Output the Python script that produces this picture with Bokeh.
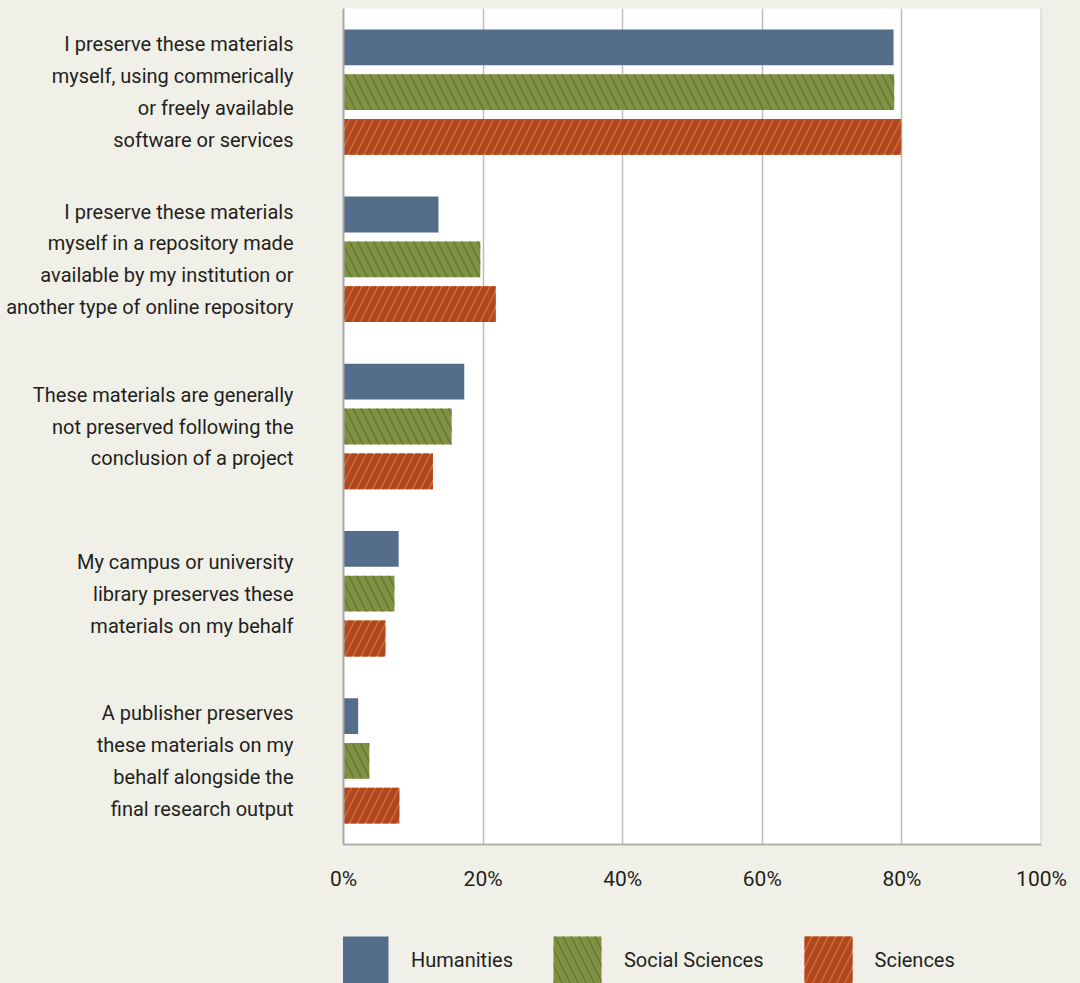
from bokeh.plotting import figure
from bokeh.layouts import column
from bokeh.models import ColumnDataSource, FactorRange, FixedTicker, PrintfTickFormatter, Span, Legend, LegendItem
from bokeh.transform import dodge
from bokeh.embed import file_html
from bokeh.resources import INLINE

categories = [
    "I preserve these materials\nmyself, using commerically\nor freely available\nsoftware or services",
    "I preserve these materials\nmyself in a repository made\navailable by my institution or\nanother type of online repository",
    "These materials are generally\nnot preserved following the\nconclusion of a project",
    "My campus or university\nlibrary preserves these\nmaterials on my behalf",
    "A publisher preserves\nthese materials on my\nbehalf alongside the\nfinal research output",
]
humanities = [78.8, 13.6, 17.3, 7.9, 2.1]
social_sciences = [78.9, 19.6, 15.5, 7.3, 3.7]
sciences = [79.9, 21.8, 12.8, 6.0, 8.0]
series_names = ["Humanities", "Social Sciences", "Sciences"]
x_ticks = [0, 20, 40, 60, 80, 100]

FONT = "Roboto"
BG = "#f0efe8"
TXT = "#231f20"

styles = [
    dict(fill_color="#536d8a", line_color=None),
    dict(fill_color="#809141", line_color=None, hatch_pattern="\\", hatch_color="#62753a",
         hatch_alpha=0.9, hatch_scale=16, hatch_weight=1.5),
    dict(fill_color="#d66328", line_color=None, hatch_pattern="/", hatch_color="#ad4822",
         hatch_alpha=1.0, hatch_scale=16, hatch_weight=5.5),
]

source = ColumnDataSource(dict(cat=categories, hum=humanities, soc=social_sciences, sci=sciences))

p = figure(
    width=1080, height=893,
    y_range=FactorRange(factors=categories[::-1], range_padding=0),
    x_range=(0, 100),
    output_backend="svg", toolbar_location=None,
    background_fill_color="white", border_fill_color=BG,
    min_border_left=343, min_border_right=39, min_border_top=8, min_border_bottom=43,
)
p.outline_line_color = None

bh = 0.214
off = 0.268
p.hbar(y=dodge("cat", off, range=p.y_range), right="hum", left=0, height=bh, source=source, **styles[0])
p.hbar(y=dodge("cat", 0, range=p.y_range), right="soc", left=0, height=bh, source=source, **styles[1])
p.hbar(y=dodge("cat", -off, range=p.y_range), right="sci", left=0, height=bh, source=source, **styles[2])

p.xaxis.ticker = FixedTicker(ticks=x_ticks)
p.xaxis.formatter = PrintfTickFormatter(format="%d%%")
p.xaxis.major_tick_line_color = None
p.xaxis.minor_tick_line_color = None
p.xaxis.axis_line_color = "#b0b0b0"
p.xaxis.axis_line_width = 2
p.xaxis.major_label_text_font = FONT
p.xaxis.major_label_text_font_size = "21px"
p.xaxis.major_label_text_color = TXT
p.xaxis.major_label_standoff = 16

p.yaxis.major_tick_line_color = None
p.yaxis.minor_tick_line_color = None
p.yaxis.axis_line_color = "#a8a8a8"
p.yaxis.axis_line_width = 2
p.yaxis.major_label_text_font = FONT
p.yaxis.major_label_text_font_size = "20px"
p.yaxis.major_label_text_color = TXT
p.yaxis.major_label_text_line_height = 1.327
p.yaxis.major_label_standoff = 44

p.ygrid.grid_line_color = None
p.xgrid.grid_line_color = "#bdbdbd"
p.xgrid.grid_line_width = 1.5

p.add_layout(Span(location=100, dimension="height", line_color="#c8c8c8", line_width=2))

# legend strip below the chart (same series styles, shown only as legend swatches)
lg = figure(
    width=1080, height=90, x_range=(0, 1), y_range=(0, 1),
    output_backend="svg", toolbar_location=None,
    background_fill_alpha=0, border_fill_alpha=0,
    min_border_left=0, min_border_right=0, min_border_top=0, min_border_bottom=0,
)
lg.outline_line_color = None
lg.axis.visible = False
lg.grid.visible = False
swatch = ColumnDataSource(dict(y=[-5], right=[0]))
items = []
for name, st in zip(series_names, styles):
    r = lg.hbar(y="y", right="right", left=0, height=0.1, source=swatch, **st)
    items.append(LegendItem(label=name, renderers=[r]))

legend = Legend(
    items=items,
    orientation="horizontal",
    location=(-9, -6),
    glyph_width=60, glyph_height=59,
    label_standoff=17, spacing=34, padding=0, margin=0,
    border_line_color=None, background_fill_alpha=0,
    label_text_font=FONT, label_text_font_size="20px", label_text_color=TXT,
)
lg.add_layout(legend, "center")

layout = column(p, lg, spacing=0, styles={"background-color": BG})
html = file_html(layout, INLINE)
html = html.replace("<body>", '<body style="background-color:%s">' % BG, 1)
open("out.html", "w").write(html)
